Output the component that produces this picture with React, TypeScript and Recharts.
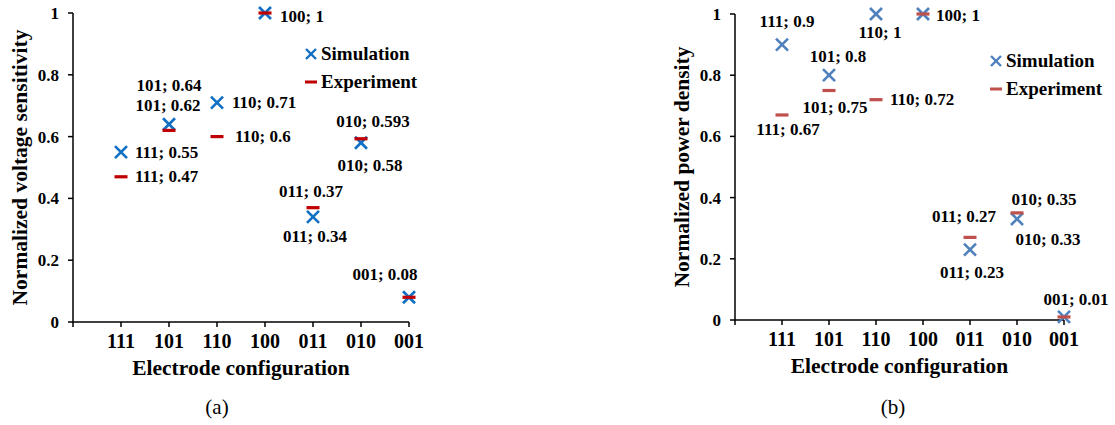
import { ScatterChart, Scatter, XAxis, YAxis, Legend, Label } from 'recharts'

const categories = ['111', '101', '110', '100', '011', '010', '001']
const sensitivitySim = [0.55, 0.64, 0.71, 1, 0.34, 0.58, 0.08]
const sensitivityExp = [0.47, 0.62, 0.6, 1, 0.37, 0.593, 0.08]
const powerSim = [0.9, 0.8, 1, 1, 0.23, 0.33, 0.01]
const powerExp = [0.67, 0.75, 0.72, 1, 0.27, 0.35, 0.01]
const xTicks = [0, 1, 2, 3, 4, 5, 6, 7]
const yTicks = [0, 0.2, 0.4, 0.6, 0.8, 1]

const SIM = 'Simulation'
const EXP = 'Experiment'
const FONT = '"Liberation Serif", "Times New Roman", serif'

// where each data label sits relative to its marker: [dx, dy, anchor]
type Lab = [number, number, 'start' | 'middle' | 'end'] | null
const sensSimLabels: Lab[] = [[14, 0, 'start'], [0, -39, 'middle'], [15, 0, 'start'], null, [2, 20, 'middle'], [9, 23, 'middle'], null]
const sensExpLabels: Lab[] = [[14, 0, 'start'], [-1, -25, 'middle'], [18, 0, 'start'], [15, 3, 'start'], [-2, -16, 'middle'], [12, -17, 'middle'], [-24, -23, 'middle']]
const powerSimLabels: Lab[] = [[5, -23, 'middle'], [9, -19, 'middle'], [4, 18, 'middle'], null, [2, 23, 'middle'], [31, 20, 'middle'], [12, -17, 'middle']]
const powerExpLabels: Lab[] = [[6, 15, 'middle'], [6, 17, 'middle'], [14, 0, 'start'], [13, 1, 'start'], [-6, -21, 'middle'], [27, -13, 'middle'], null]

const toPoints = (values: number[]) => values.map((v, i) => ({ x: i + 1, y: v, cat: categories[i] }))

function makeShape(kind: 'cross' | 'dash', color: string, labels: Lab[]) {
  return (props: any) => {
    const { cx, cy, payload } = props
    const lab = labels[payload.x - 1]
    return (
      <g>
        {kind === 'cross' ? (
          <g stroke={color} strokeWidth={2.6}>
            <line x1={cx - 6} y1={cy - 6} x2={cx + 6} y2={cy + 6} />
            <line x1={cx - 6} y1={cy + 6} x2={cx + 6} y2={cy - 6} />
          </g>
        ) : (
          <rect x={cx - 6.5} y={cy - 1.6} width={13} height={3.2} fill={color} />
        )}
        {lab && (
          <text
            x={cx + lab[0]}
            y={cy + lab[1]}
            textAnchor={lab[2]}
            dominantBaseline="central"
            fontFamily={FONT}
            fontWeight="bold"
            fontSize={17}
            fill="#000"
          >
            {`${payload.cat}; ${payload.y}`}
          </text>
        )}
      </g>
    )
  }
}

const YTitle = (props: any) => {
  const { x, y, width, height } = props.viewBox
  const cx = x + width - 53
  const cy = y + height / 2
  return (
    <text
      x={cx}
      y={cy}
      transform={`rotate(-90 ${cx} ${cy})`}
      textAnchor="middle"
      dominantBaseline="central"
      fontFamily={FONT}
      fontWeight="bold"
      fontSize={21.5}
      fill="#000"
    >
      {props.value}
    </text>
  )
}

const XTitle = (props: any) => {
  const { x, y, width } = props.viewBox
  return (
    <text
      x={x + width / 2}
      y={y + 46}
      textAnchor="middle"
      dominantBaseline="central"
      fontFamily={FONT}
      fontWeight="bold"
      fontSize={21.5}
      fill="#000"
    >
      {props.value}
    </text>
  )
}

function legendContent(simColor: string, expColor: string) {
  return (props: any) => {
    const items = [...(props.payload || [])].sort((a: any, b: any) => (a.value === SIM ? -1 : b.value === SIM ? 1 : 0))
    return (
      <div style={{ fontFamily: FONT, fontWeight: 'bold', fontSize: 19, color: '#000' }}>
        {items.map((e: any) => (
          <div key={e.value} style={{ display: 'flex', alignItems: 'center', height: 28, whiteSpace: 'nowrap' }}>
            <svg width={12} height={12} style={{ marginRight: 4 }}>
              {e.value === SIM ? (
                <g stroke={simColor} strokeWidth={2.4}>
                  <line x1={1} y1={1} x2={11} y2={11} />
                  <line x1={1} y1={11} x2={11} y2={1} />
                </g>
              ) : (
                <rect x={0} y={4.5} width={12} height={3} fill={expColor} />
              )}
            </svg>
            <span>{e.value}</span>
          </div>
        ))}
      </div>
    )
  }
}

interface PanelProps {
  left: number
  width: number
  margin: { top: number; right: number; bottom: number; left: number }
  sim: number[]
  exp: number[]
  simLabels: Lab[]
  expLabels: Lab[]
  simColor: string
  expColor: string
  yTitle: string
  legendPos: { left: number; top: number }
  tag: string
  tagX: number
}

function Panel(p: PanelProps) {
  const tickStyle = { fontFamily: FONT, fontWeight: 'bold', fill: '#000' }
  return (
    <div style={{ position: 'absolute', left: p.left, top: 0 }}>
      <ScatterChart width={p.width} height={425} margin={p.margin}>
        <XAxis
          type="number"
          dataKey="x"
          domain={[0, 7]}
          ticks={xTicks}
          interval={0}
          tickFormatter={(v: number) => (v === 0 ? '' : categories[v - 1])}
          tick={{ ...tickStyle, fontSize: 20 }}
          tickSize={5}
          tickMargin={7}
          axisLine={{ stroke: '#000', strokeWidth: 1.5 }}
          tickLine={{ stroke: '#000', strokeWidth: 1.5 }}
          height={30}
        >
          <Label value="Electrode configuration" content={XTitle} />
        </XAxis>
        <YAxis
          type="number"
          dataKey="y"
          domain={[0, 1]}
          ticks={yTicks}
          interval={0}
          tickFormatter={(v: number) => String(v)}
          tick={{ ...tickStyle, fontSize: 17 }}
          tickSize={5}
          tickMargin={9}
          axisLine={{ stroke: '#000', strokeWidth: 1.5 }}
          tickLine={{ stroke: '#000', strokeWidth: 1.5 }}
          width={60}
        >
          <Label value={p.yTitle} content={YTitle} />
        </YAxis>
        <Legend
          layout="vertical"
          align="center"
          verticalAlign="middle"
          wrapperStyle={{ left: p.legendPos.left, top: p.legendPos.top, width: 'auto' }}
          content={legendContent(p.simColor, p.expColor)}
        />
        <Scatter
          name={SIM}
          data={toPoints(p.sim)}
          fill={p.simColor}
          shape={makeShape('cross', p.simColor, p.simLabels)}
          isAnimationActive={false}
        />
        <Scatter
          name={EXP}
          data={toPoints(p.exp)}
          fill={p.expColor}
          shape={makeShape('dash', p.expColor, p.expLabels)}
          isAnimationActive={false}
        />
      </ScatterChart>
      <div
        style={{
          position: 'absolute',
          left: p.tagX - 30,
          width: 60,
          top: 395,
          textAlign: 'center',
          fontFamily: FONT,
          fontSize: 21,
          color: '#000',
        }}
      >
        {p.tag}
      </div>
    </div>
  )
}

export default function App() {
  return (
    <div style={{ position: 'absolute', left: 0, top: 0, width: 1115, height: 425, background: '#fff' }}>
      <Panel
        left={0}
        width={450}
        margin={{ top: 13, right: 41, bottom: 73, left: 13 }}
        sim={sensitivitySim}
        exp={sensitivityExp}
        simLabels={sensSimLabels}
        expLabels={sensExpLabels}
        simColor="#1170C4"
        expColor="#C00000"
        yTitle="Normalized voltage sensitivity"
        legendPos={{ left: 305, top: 40 }}
        tag="(a)"
        tagX={217}
      />
      <Panel
        left={560}
        width={555}
        margin={{ top: 14, right: 51, bottom: 75, left: 115 }}
        sim={powerSim}
        exp={powerExp}
        simLabels={powerSimLabels}
        expLabels={powerExpLabels}
        simColor="#4F81BD"
        expColor="#C0504D"
        yTitle="Normalized power density"
        legendPos={{ left: 430, top: 47 }}
        tag="(b)"
        tagX={333}
      />
    </div>
  )
}
